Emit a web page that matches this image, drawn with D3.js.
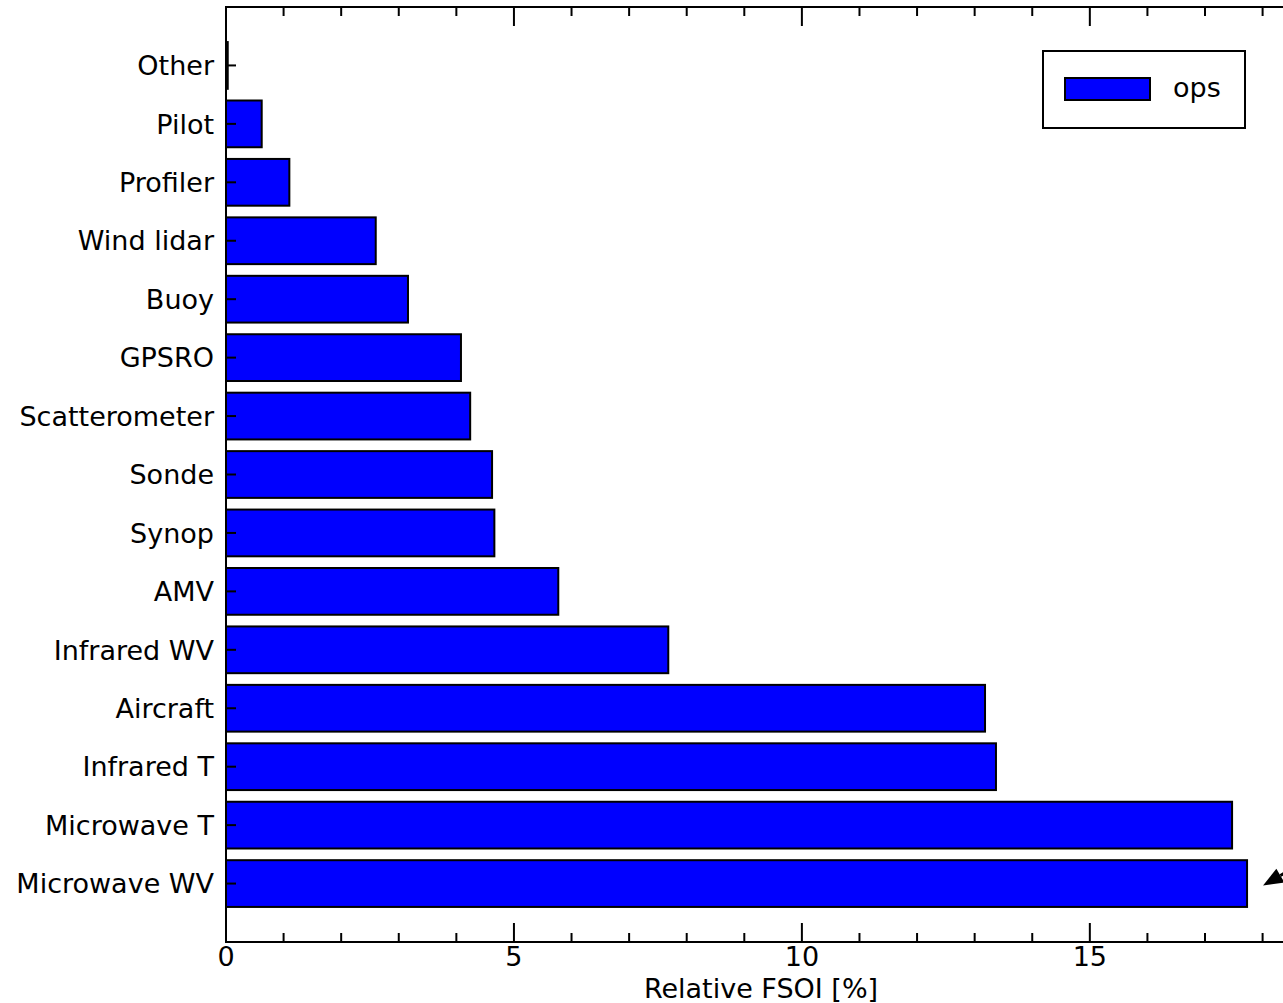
<!doctype html>
<html lang="en">
  <head>
    <meta charset="UTF-8" />
    <title>Relative FSOI</title>
    <script src="https://unpkg.com/d3@7.9.0/dist/d3.min.js"></script>
    <style>
      body {
        margin: 0;
        overflow: hidden;
        background: #fff;
      }
      svg text {
        font-family: 'DejaVu Sans', sans-serif;
        fill: #000;
      }
      .tick-label {
        font-size: 27px;
      }
    </style>
  </head>
  <body>
    <svg width="1283" height="1003"></svg>

    <script>
      // observation types, top to bottom
      const categories = [
        'Other', 'Pilot', 'Profiler', 'Wind lidar', 'Buoy', 'GPSRO',
        'Scatterometer', 'Sonde', 'Synop', 'AMV', 'Infrared WV',
        'Aircraft', 'Infrared T', 'Microwave T', 'Microwave WV',
      ];
      // relative FSOI [%] for "ops"
      const opsValues = [
        0.03, 0.62, 1.1, 2.6, 3.16, 4.08, 4.24, 4.62, 4.66, 5.77, 7.68,
        13.18, 13.37, 17.47, 17.73,
      ];
      const seriesName = 'ops';
      const majorTicks = [0, 5, 10, 15];
      const minorTicks = [1, 2, 3, 4, 6, 7, 8, 9, 11, 12, 13, 14, 16, 17, 18];

      const data = categories.map((c, i) => ({ name: c, value: opsValues[i] }));

      const margin = { top: 7, left: 226 },
        plotRight = 1296,
        plotBottom = 942;

      const svg = d3.select('svg');

      const x = d3.scaleLinear().domain([0, 18.58]).range([margin.left, plotRight]);
      const y = d3
        .scaleBand()
        .domain(categories)
        .range([margin.top, plotBottom])
        .paddingInner(0.2)
        .paddingOuter(0.6);

      // bars
      svg
        .append('g')
        .selectAll('rect')
        .data(data)
        .enter()
        .append('rect')
        .attr('x', x(0))
        .attr('y', (d) => y(d.name))
        .attr('width', (d) => x(d.value) - x(0))
        .attr('height', y.bandwidth())
        .attr('fill', '#0000ff')
        .attr('stroke', '#000')
        .attr('stroke-width', 2);

      // frame (right side falls outside the picture)
      svg
        .append('rect')
        .attr('x', margin.left)
        .attr('y', margin.top)
        .attr('width', plotRight - margin.left)
        .attr('height', plotBottom - margin.top)
        .attr('fill', 'none')
        .attr('stroke', '#000')
        .attr('stroke-width', 2);

      // x ticks, inward on top and bottom
      const tickG = svg.append('g').attr('stroke', '#000').attr('stroke-width', 2);
      [[majorTicks, 19], [minorTicks, 9]].forEach(([ticks, len]) => {
        tickG
          .selectAll(null)
          .data(ticks)
          .enter()
          .append('line')
          .attr('x1', (d) => x(d))
          .attr('x2', (d) => x(d))
          .attr('y1', plotBottom)
          .attr('y2', plotBottom - len);
        tickG
          .selectAll(null)
          .data(ticks)
          .enter()
          .append('line')
          .attr('x1', (d) => x(d))
          .attr('x2', (d) => x(d))
          .attr('y1', margin.top)
          .attr('y2', margin.top + len);
      });

      svg
        .append('g')
        .selectAll('text')
        .data(majorTicks)
        .enter()
        .append('text')
        .attr('class', 'tick-label')
        .attr('x', (d) => x(d))
        .attr('y', 966)
        .attr('text-anchor', 'middle')
        .text((d) => d);

      // y ticks
      tickG
        .selectAll(null)
        .data(categories)
        .enter()
        .append('line')
        .attr('x1', margin.left)
        .attr('x2', margin.left + 10)
        .attr('y1', (d) => y(d) + y.bandwidth() / 2)
        .attr('y2', (d) => y(d) + y.bandwidth() / 2);

      svg
        .append('g')
        .selectAll('text')
        .data(categories)
        .enter()
        .append('text')
        .attr('class', 'tick-label')
        .attr('x', 214)
        .attr('y', (d) => y(d) + y.bandwidth() / 2)
        .attr('dy', '0.36em')
        .attr('text-anchor', 'end')
        .text((d) => d);

      // axis label
      svg
        .append('text')
        .attr('class', 'tick-label')
        .attr('x', (margin.left + plotRight) / 2)
        .attr('y', 998)
        .attr('text-anchor', 'middle')
        .text('Relative FSOI [%]');

      // legend
      const legend = svg.append('g');
      legend
        .append('rect')
        .attr('x', 1043)
        .attr('y', 51)
        .attr('width', 202)
        .attr('height', 77)
        .attr('fill', '#fff')
        .attr('stroke', '#000')
        .attr('stroke-width', 2);
      legend
        .append('rect')
        .attr('x', 1065)
        .attr('y', 78)
        .attr('width', 85)
        .attr('height', 22)
        .attr('fill', '#0000ff')
        .attr('stroke', '#000')
        .attr('stroke-width', 2);
      legend
        .append('text')
        .attr('class', 'tick-label')
        .attr('x', 1173)
        .attr('y', 97)
        .text(seriesName);

      // annotation arrow pointing at the largest bar (tail off-picture)
      const biggest = data[data.length - 1];
      const tipX = x(biggest.value) + 16,
        tipY = y(biggest.name) + y.bandwidth() / 2 + 2;
      const ux = Math.cos(Math.PI / 6), uy = -Math.sin(Math.PI / 6);
      const headLen = 20, headHalf = 8;
      const bx = tipX + headLen * ux, by = tipY + headLen * uy;
      svg
        .append('line')
        .attr('x1', bx)
        .attr('y1', by)
        .attr('x2', bx + 60 * ux)
        .attr('y2', by + 60 * uy)
        .attr('stroke', '#000')
        .attr('stroke-width', 3);
      svg
        .append('path')
        .attr(
          'd',
          `M${tipX},${tipY} L${bx - headHalf * uy},${by + headHalf * ux} L${bx + headHalf * uy},${by - headHalf * ux} Z`,
        )
        .attr('fill', '#000');
    </script>
  </body>
</html>
